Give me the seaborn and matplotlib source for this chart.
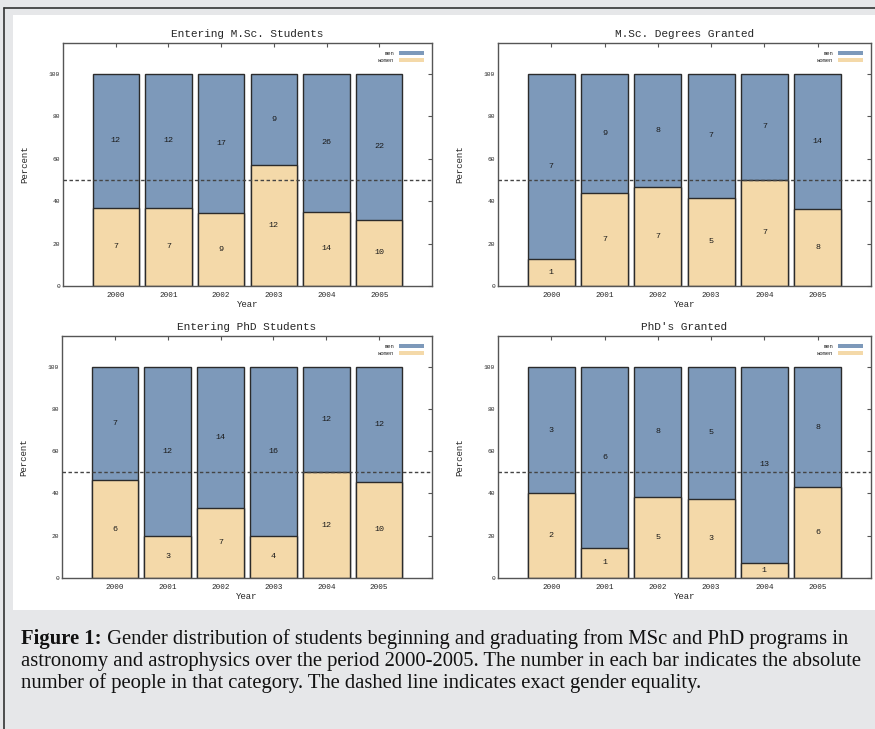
import numpy as np
import pandas as pd
import matplotlib
matplotlib.use("Agg")
import matplotlib.pyplot as plt
import seaborn as sns
from matplotlib.patches import Patch, Rectangle
from matplotlib.lines import Line2D

# data: head counts per year
years = ['2000', '2001', '2002', '2003', '2004', '2005']

msc_enter_men = [12, 12, 17, 9, 26, 22]
msc_enter_women = [7, 7, 9, 12, 14, 10]

msc_grant_men = [7, 9, 8, 7, 7, 14]
msc_grant_women = [1, 7, 7, 5, 7, 8]

phd_enter_men = [7, 12, 14, 16, 12, 12]
phd_enter_women = [6, 3, 7, 4, 12, 10]

phd_grant_men = [3, 6, 8, 5, 13, 8]
phd_grant_women = [2, 1, 5, 3, 1, 6]

titles = ['Entering M.Sc. Students', 'M.Sc. Degrees Granted',
          'Entering PhD Students', "PhD's Granted"]
panels = [(msc_enter_men, msc_enter_women), (msc_grant_men, msc_grant_women),
          (phd_enter_men, phd_enter_women), (phd_grant_men, phd_grant_women)]

caption_bold = 'Figure 1:'
caption_lines = [' Gender distribution of students beginning and graduating from MSc and PhD programs in',
                 'astronomy and astrophysics over the period 2000-2005. The number in each bar indicates the absolute',
                 'number of people in that category. The dashed line indicates exact gender equality.']

sns.set_theme(style="white")
plt.rcParams['font.family'] = ['Liberation Mono', 'DejaVu Sans Mono']

men_color = '#7d99ba'
women_color = '#f4d9a9'
edge = '#2b2b2b'
W, H = 875, 729

fig = plt.figure(figsize=(W / 100, H / 100), dpi=100, facecolor='#e6e7e9')

# white plot area + outer frame
fig.patches.append(Rectangle((13 / W, 1 - 610 / H), 862 / W, 595 / H, transform=fig.transFigure,
                             facecolor='white', edgecolor='none', zorder=-10))
fig.add_artist(Line2D([4 / W, 4 / W], [0, 1 - 8 / H], color='#333333', lw=1.2, transform=fig.transFigure))
fig.add_artist(Line2D([4 / W, 1], [1 - 8 / H, 1 - 8 / H], color='#333333', lw=1.2, transform=fig.transFigure))

# axes boxes in pixels: left, right, top, bottom
boxes = [(63, 432, 43, 286), (498, 871, 43, 286),
         (62, 432, 336, 578), (498, 871, 336, 578)]

for i, (box, (men, women)) in enumerate(zip(boxes, panels)):
    l, r, t, b = box
    ax = fig.add_axes([l / W, 1 - b / H, (r - l) / W, (b - t) / H])
    ax.set_zorder(1)
    ax.set_facecolor('none')
    men = np.array(men)
    women = np.array(women)
    total = men + women
    df = pd.DataFrame({'Year': years, 'full': 100.0, 'women_pct': women / total * 100})

    sns.barplot(data=df, x='Year', y='full', color=men_color, width=0.88, saturation=1,
                edgecolor=edge, linewidth=1.0, ax=ax)
    sns.barplot(data=df, x='Year', y='women_pct', color=women_color, width=0.88, saturation=1,
                edgecolor=edge, linewidth=1.0, ax=ax)

    ax.axhline(50, color='#444444', lw=1.0, ls=(0, (2.5, 1.8)), zorder=5)

    # counts in the middle of each segment
    for j in range(len(years)):
        wp = df['women_pct'][j]
        ax.text(j, wp / 2, str(women[j]), ha='center', va='center', fontsize=6, color='#1a1a1a')
        ax.text(j, (wp + 100) / 2, str(men[j]), ha='center', va='center', fontsize=6, color='#1a1a1a')

    ax.set_xlim(-1, 6)
    ax.set_ylim(0, 114.5)
    ax.set_yticks([0, 20, 40, 60, 80, 100])
    ax.tick_params(axis='both', direction='in', length=3, width=0.8, color='#555555',
                   top=True, right=True)
    ax.tick_params(axis='x', labelsize=5.5, pad=4)
    ax.tick_params(axis='y', labelsize=4.5, pad=2)
    for s in ax.spines.values():
        s.set_color('#555555')
        s.set_linewidth(1.0)

    ax.set_title(titles[i], fontsize=8, pad=4)
    ax.set_xlabel('Year', fontsize=6.5, labelpad=1)
    ax.set_ylabel('Percent', fontsize=6.5, labelpad=14)

    handles = [Patch(facecolor=men_color, edgecolor='none', label='men'),
               Patch(facecolor=women_color, edgecolor='none', label='women')]
    ax.legend(handles=handles, loc='upper right', frameon=False, fontsize=4,
              markerfirst=False, handlelength=4.5, handleheight=0.6,
              labelspacing=0.35, borderaxespad=1.0, handletextpad=0.9)

# caption
cap_font = ['Liberation Serif', 'DejaVu Serif']
cap_size = 14.9
bold = fig.text(21 / W, 1 - 644 / H, caption_bold, fontsize=cap_size, fontweight='bold', family=cap_font,
                va='baseline', color='#111111')
fig.axes[0].annotate(caption_lines[0], xy=(1, 0), xycoords=bold, fontsize=cap_size, family=cap_font,
                     va='bottom', ha='left', color='#111111', annotation_clip=False)
fig.text(21 / W, 1 - 666 / H, caption_lines[1], fontsize=cap_size, family=cap_font, va='baseline', color='#111111')
fig.text(21 / W, 1 - 688 / H, caption_lines[2], fontsize=cap_size, family=cap_font, va='baseline', color='#111111')

fig.savefig('out.png', dpi=100, facecolor=fig.get_facecolor())
